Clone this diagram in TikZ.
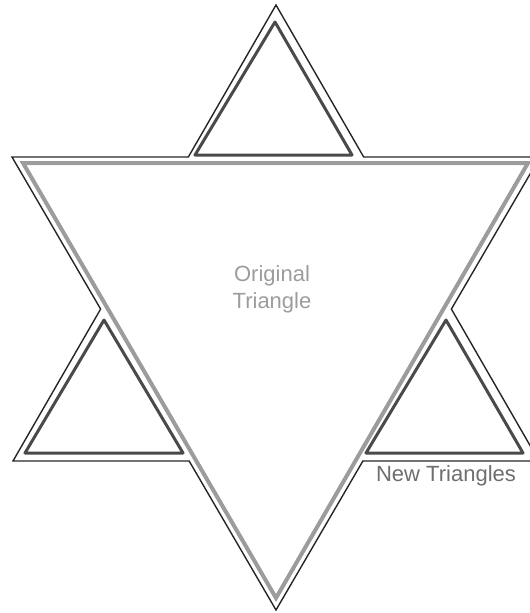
\documentclass[tikz,border=0pt]{standalone}
\usepackage{fontspec}
\setmainfont{Liberation Sans}
\usepackage{tikz}
\usetikzlibrary{positioning,calc}
\usepackage{xcolor}

\definecolor{origgray}{HTML}{9C9C9C}
\definecolor{newgray}{HTML}{4A4A4A}
\definecolor{labgray}{HTML}{6E6E6E}

\begin{document}
\begin{tikzpicture}[x=1pt,y=-1pt,
  outline/.style={draw=black!85,line width=1.4pt,line join=miter},
  original/.style={draw=origgray,line width=4pt,line join=miter},
  newtri/.style={draw=newgray,line width=3pt,line join=round},
  lab/.style={font=\fontsize{22}{27}\selectfont,align=center,inner sep=0pt}]
\useasboundingbox (0,0) rectangle (530,613);
\clip (0,0) rectangle (530,613);
% the two big triangles of the star
\coordinate (up) at (276,5);
\coordinate (upl) at (13,461);
\coordinate (upr) at (539,461);
\coordinate (dnl) at (12,157);
\coordinate (dnr) at (540,157);
\coordinate (dn) at (276,610);
% star outline
\draw[outline] (up)
  -- (intersection of up--upr and dnl--dnr)
  -- (dnr)
  -- (intersection of up--upr and dnr--dn)
  -- (upr)
  -- (intersection of upl--upr and dnr--dn)
  -- (dn)
  -- (intersection of upl--upr and dnl--dn)
  -- (upl)
  -- (intersection of up--upl and dnl--dn)
  -- (dnl)
  -- (intersection of up--upl and dnl--dnr)
  -- cycle;
% original triangle
\draw[original] (23,163) -- (528,163) -- (276,598) -- cycle;
% new triangles
\draw[newtri] (275,22) -- (352,155) -- (195,155) -- cycle;
\draw[newtri] (104,320) -- (183,453) -- (25,453) -- cycle;
\draw[newtri] (446,320) -- (523,453) -- (366,453) -- cycle;
% labels
\node[lab,text=origgray] (orig) at (272,289) {Original\\Triangle};
\node[lab,text=labgray] (newlab) at (446,476) {New Triangles};
\end{tikzpicture}
\end{document}
